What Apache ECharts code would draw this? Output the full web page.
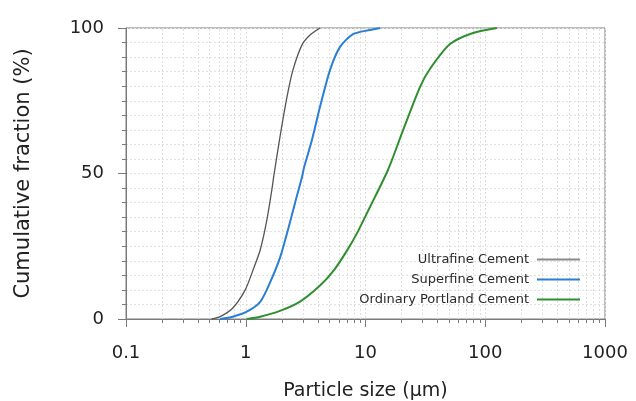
<!DOCTYPE html>
<html>
<head>
<meta charset="utf-8">
<script src="https://cdn.jsdelivr.net/npm/echarts@6/dist/echarts.min.js"></script>
<style>
  html, body { margin: 0; padding: 0; background: #fff; }
  #chart { width: 636px; height: 401px; }
</style>
</head>
<body>
<div id="chart"></div>
<script>
// Cumulative particle size distributions (size in µm, cumulative %)
const ultrafineSize = [0.52, 0.61, 0.78, 0.99, 1.15, 1.32, 1.50, 1.66, 1.72, 1.93, 2.21, 2.48, 2.95, 3.44, 4.17];
const ultrafineCum  = [0, 0.8, 3.8, 10, 16.8, 23.7, 34, 45, 49.5, 62.5, 76.3, 85.6, 94.2, 97.6, 100];

const superfineSize = [0.61, 0.78, 1.02, 1.32, 1.59, 1.93, 2.25, 2.58, 2.95, 3.06, 3.57, 4.17, 5.06, 6.13, 7.87, 10.9, 13.2];
const superfineCum  = [0, 0.8, 2.5, 5.9, 12.4, 21, 30.6, 39.9, 48.8, 51.9, 61.5, 72.9, 85.6, 93.5, 97.9, 99.3, 100];

const opcSize = [1.02, 1.32, 1.93, 2.84, 4.17, 5.5, 7.0, 8.5, 10.9, 15.4, 20.6, 28.5, 34.6, 50.8, 79, 125];
const opcCum  = [0, 0.8, 2.8, 6.0, 11.5, 17, 23.5, 29.5, 38.5, 51.2, 64.9, 79.7, 86, 94.5, 98.3, 100];

const seriesNames = ['Ultrafine Cement', 'Superfine Cement', 'Ordinary Portland Cement'];
const xTickLabels = [0.1, 1, 10, 100, 1000];
const yTickLabels = [0, 50, 100];
// intermediate log-decade positions (2..9 of each decade)
const minorSizes = [0.2, 0.3, 0.4, 0.5, 0.6, 0.7, 0.8, 0.9,
                    2, 3, 4, 5, 6, 7, 8, 9,
                    20, 30, 40, 50, 60, 70, 80, 90,
                    200, 300, 400, 500, 600, 700, 800, 900];

const zip = (xs, ys) => xs.map((x, i) => [x, ys[i]]);
const fontFamily = 'DejaVu Sans';
const axisGray = '#7a7a7a';
const gridDots = { color: '#e0e0e0', type: [2, 2], width: 1 };
const colors = ['#555555', '#2a7fd4', '#2f8f2f'];

const chart = echarts.init(document.getElementById('chart'));
chart.setOption({
  animation: false,
  textStyle: { fontFamily },
  grid: {
    left: 126, right: 31, top: 28, bottom: 82,
    outerBoundsMode: 'none', containLabel: false,
    show: true, borderColor: axisGray, borderWidth: 1, backgroundColor: 'transparent'
  },
  legend: {
    orient: 'vertical',
    align: 'right',
    right: 51,
    top: 248,
    icon: 'rect',
    itemWidth: 43,
    itemHeight: 2,
    itemGap: 7,
    data: [
      { name: seriesNames[0], itemStyle: { color: '#8a8a8a' } },
      { name: seriesNames[1] },
      { name: seriesNames[2] }
    ],
    textStyle: { fontFamily, fontSize: 13, color: '#2a2a2a', padding: [0, 3, 0, 0] }
  },
  xAxis: [
    {
      type: 'log', logBase: 10, min: 0.1, max: 1000,
      name: 'Particle size (µm)', nameLocation: 'middle', nameGap: 63,
      nameTextStyle: { fontFamily, fontSize: 19, color: '#222' },
      axisLine: { show: true, lineStyle: { color: axisGray } },
      axisTick: { show: true, length: 8, lineStyle: { color: axisGray } },
      axisLabel: {
        margin: 25, fontSize: 18, color: '#222',
        formatter: v => {
          const m = xTickLabels.find(t => Math.abs(t - v) / t < 1e-6);
          return m === undefined ? '' : String(m);
        }
      },
      splitLine: { show: true, lineStyle: gridDots }
    },
    {
      type: 'log', logBase: 10, min: 0.1, max: 1000, position: 'bottom',
      axisLine: { show: false },
      axisLabel: { show: false },
      axisTick: { show: true, length: 4, customValues: minorSizes, lineStyle: { color: axisGray } },
      splitLine: { show: false }
    }
  ],
  yAxis: {
    type: 'value', min: 0, max: 100, interval: 50,
    name: 'Cumulative fraction (%)', nameLocation: 'middle', nameGap: 92,
    nameTextStyle: { fontFamily, fontSize: 21, color: '#222' },
    axisLine: { show: true, lineStyle: { color: axisGray } },
    axisTick: { show: true, length: 8, lineStyle: { color: axisGray } },
    minorTick: { show: true, splitNumber: 10, length: 4, lineStyle: { color: axisGray } },
    axisLabel: {
      margin: 22, fontSize: 18, color: '#222',
      formatter: v => (yTickLabels.includes(v) ? String(v) : '')
    },
    splitLine: { show: true, lineStyle: gridDots },
    minorSplitLine: { show: true, lineStyle: gridDots }
  },
  series: [
    {
      name: seriesNames[0], type: 'line', data: zip(ultrafineSize, ultrafineCum),
      showSymbol: false, symbol: 'none', smooth: 0.25, z: 5,
      lineStyle: { color: colors[0], width: 1.3 }, itemStyle: { color: colors[0] },
      markLine: {
        silent: true, symbol: 'none', label: { show: false },
        lineStyle: gridDots, z: 0,
        data: minorSizes.map(v => ({ xAxis: v }))
      }
    },
    {
      name: seriesNames[1], type: 'line', data: zip(superfineSize, superfineCum),
      showSymbol: false, symbol: 'none', smooth: 0.25, z: 5,
      lineStyle: { color: colors[1], width: 2 }, itemStyle: { color: colors[1] }
    },
    {
      name: seriesNames[2], type: 'line', data: zip(opcSize, opcCum),
      showSymbol: false, symbol: 'none', smooth: 0.25, z: 5,
      lineStyle: { color: colors[2], width: 2 }, itemStyle: { color: colors[2] }
    }
  ]
});
</script>
</body>
</html>
